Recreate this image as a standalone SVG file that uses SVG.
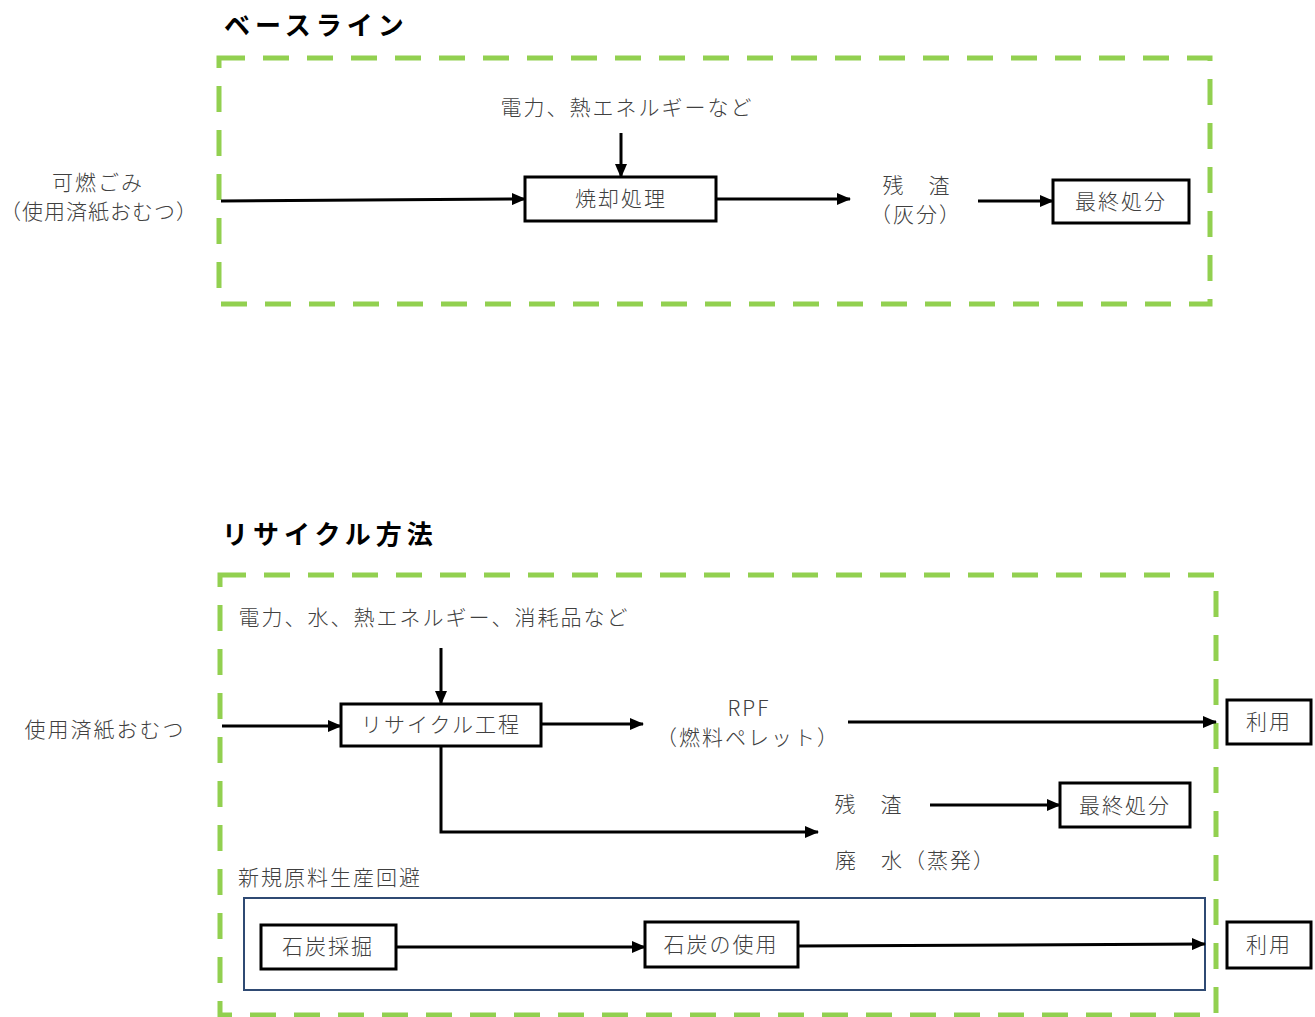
<svg xmlns="http://www.w3.org/2000/svg" width="1315" height="1017" viewBox="0 0 1315 1017">
<defs>
<marker id="ah" markerWidth="14" markerHeight="12" refX="13" refY="6" orient="auto" markerUnits="userSpaceOnUse">
<path d="M0,0 L14,6 L0,12 Z" fill="#000"/>
</marker>
<style>
.t{font-family:"Noto Sans CJK JP","Noto Sans",sans-serif;font-size:21px;letter-spacing:2px;fill:#404040;font-weight:300}
.m{text-anchor:middle}
.n{letter-spacing:1px}
.h{font-family:"Noto Sans CJK JP","Noto Sans",sans-serif;font-size:26px;font-weight:bold;letter-spacing:5px;fill:#000}
.box{fill:#fff;stroke:#000;stroke-width:3}
.dash{fill:none;stroke:#92d050;stroke-width:5;stroke-dasharray:26 18}
.ca{fill:none;stroke:#000;stroke-width:3;marker-end:url(#ah)}
</style>
</defs>
<rect width="1315" height="1017" fill="#fff"/>

<g id="baseline-frame">
<text class="h" x="224" y="35">ベースライン</text>
<rect class="dash" x="219" y="58" width="991" height="246"/>
</g>
<g id="recycle-frame">
<text class="h" x="222" y="544">リサイクル方法</text>
<rect class="dash" x="220" y="575" width="996" height="440"/>
</g>

<g id="b-input"><text class="t m" x="627" y="115">電力、熱エネルギーなど</text></g>
<g id="b-waste">
<text class="t m" x="98" y="190">可燃ごみ</text>
<text class="t m n" x="99" y="219">（使用済紙おむつ）</text>
</g>
<g id="b-incin"><rect class="box" x="525" y="177" width="191" height="44"/><text class="t m" x="621" y="206">焼却処理</text></g>
<g id="b-residue">
<text class="t m" x="917" y="193">残　渣</text>
<text class="t m" x="916" y="222">（灰分）</text>
</g>
<g id="b-final"><rect class="box" x="1053" y="180" width="136" height="43"/><text class="t m" x="1121" y="209">最終処分</text></g>

<g id="r-input"><text class="t m" x="434" y="625">電力、水、熱エネルギー、消耗品など</text></g>
<g id="r-waste"><text class="t m" x="105" y="737">使用済紙おむつ</text></g>
<g id="r-process"><rect class="box" x="341" y="704" width="200" height="42"/><text class="t m" x="441" y="732">リサイクル工程</text></g>
<g id="r-rpf">
<text class="t m" x="749" y="716">RPF</text>
<text class="t m" x="748" y="745">（燃料ペレット）</text>
</g>
<g id="r-use1"><rect class="box" x="1227" y="700" width="84" height="44"/><text class="t m" x="1269" y="729">利用</text></g>
<g id="r-residue"><text class="t m" x="869" y="812">残　渣</text></g>
<g id="r-final"><rect class="box" x="1060" y="783" width="130" height="44"/><text class="t m" x="1125" y="813">最終処分</text></g>
<g id="r-water"><text class="t" x="835" y="868">廃　水（蒸発）</text></g>
<g id="r-avoid">
<text class="t" x="238" y="885">新規原料生産回避</text>
<rect x="244" y="898" width="961" height="92" fill="none" stroke="#2f4a73" stroke-width="2"/>
</g>
<g id="r-mining"><rect class="box" x="261" y="925" width="135" height="44"/><text class="t m" x="328" y="954">石炭採掘</text></g>
<g id="r-coaluse"><rect class="box" x="645" y="922" width="153" height="45"/><text class="t m" x="721" y="952">石炭の使用</text></g>
<g id="r-use2"><rect class="box" x="1227" y="922" width="84" height="46"/><text class="t m" x="1269" y="952">利用</text></g>

<g id="connectors">
<line class="ca" x1="621" y1="133" x2="621" y2="177"/>
<line class="ca" x1="221" y1="201" x2="525" y2="199"/>
<line class="ca" x1="716" y1="199" x2="850" y2="199"/>
<line class="ca" x1="978" y1="201" x2="1053" y2="201"/>
<line class="ca" x1="441" y1="648" x2="441" y2="704"/>
<line class="ca" x1="222" y1="726" x2="341" y2="726"/>
<line class="ca" x1="541" y1="724" x2="643" y2="724"/>
<line class="ca" x1="848" y1="722" x2="1216" y2="722"/>
<polyline class="ca" points="441,746 441,832 818,832"/>
<line class="ca" x1="930" y1="805" x2="1060" y2="805"/>
<line class="ca" x1="396" y1="947" x2="645" y2="947"/>
<line class="ca" x1="798" y1="946" x2="1205" y2="944"/>
</g>
</svg>
